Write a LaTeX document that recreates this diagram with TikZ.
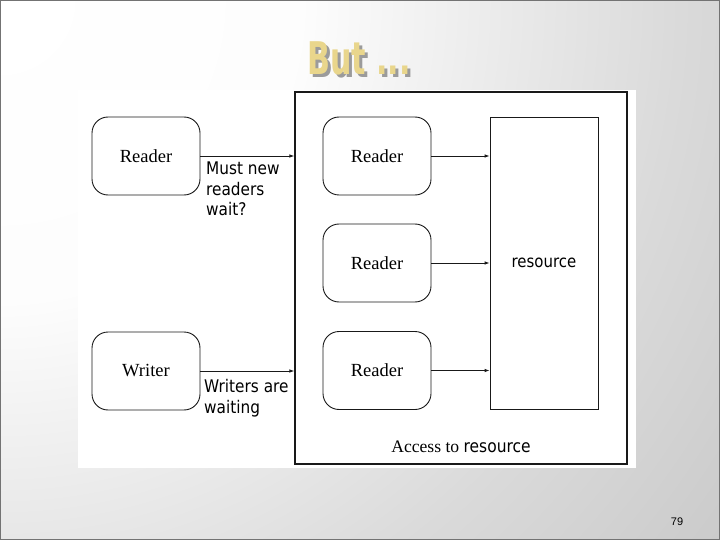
\documentclass[tikz,border=0pt]{standalone}
\usepackage{fontspec}
\setmainfont{Liberation Serif}
\setsansfont{DejaVu Sans}[FakeStretch=0.88]
\newfontfamily\titlefont{DejaVu Sans Bold}[FakeStretch=0.67]
\newfontfamily\numfont{Liberation Sans}
\usetikzlibrary{arrows.meta}
\definecolor{titlegold}{RGB}{233,214,140}
\definecolor{titleshadow}{RGB}{155,155,155}
\definecolor{inkc}{RGB}{25,25,25}
\definecolor{bga}{RGB}{253,253,253}
\definecolor{bgb}{RGB}{218,218,218}
\definecolor{bgc}{RGB}{196,196,196}
\definecolor{bgd}{RGB}{180,180,180}
\definecolor{bge}{RGB}{174,174,174}
\pgfdeclareradialshading{slidebg}{\pgfpoint{0bp}{0bp}}{color(0bp)=(white); color(7.5bp)=(bga); color(17bp)=(bgb); color(25bp)=(bgc); color(36bp)=(bgd); color(50bp)=(bge)}
\tikzset{
  actor/.style={draw=inkc, line width=0.9pt, rounded corners=16pt, minimum width=108pt, minimum height=78pt, inner sep=0pt, font=\fontsize{18.5}{20}\selectfont},
  resbox/.style={draw=inkc, line width=0.8pt, minimum width=108pt, minimum height=292pt, inner sep=0pt, font=\sffamily\fontsize{17}{20}\selectfont},
  framebox/.style={draw=inkc, line width=1.3pt, minimum width=332pt, minimum height=372pt, inner sep=0pt},
  link/.style={draw=inkc, line width=0.8pt, -{Latex[length=5pt,width=3.5pt]}},
  lbl/.style={align=left, inner sep=0pt, font=\sffamily\fontsize{17.4}{20.5}\selectfont},
}
\begin{document}
\begin{tikzpicture}[x=1pt,y=-1pt]
\useasboundingbox (0,0) rectangle (720,540);
% background
\fill[bge] (0,0) rectangle (720,540);
\begin{scope}
\clip (0,0) rectangle (720,540);
\shade[shading=slidebg] (0,0) circle[radius=1000];
\end{scope}
\draw[black!55, line width=1pt] (0.5,0.5) rectangle (719.5,539.5);
% title with shadow
\node[font=\titlefont\fontsize{45}{47}\selectfont, inner sep=0pt] (title) at (359,60)
  {\makebox[0pt][l]{\raisebox{-3.5pt}{\hspace{3pt}\textcolor{titleshadow}{But ...}}}\textcolor{titlegold}{But ...}};
% page number
\node[font=\numfont\fontsize{11}{13}\selectfont] (pnum) at (677,522) {79};
% white panel
\fill[white] (78,90) rectangle (636,468);
% frame
\node[framebox] (frame) at (461,278) {};
\node[font=\fontsize{17.6}{20}\selectfont, inner sep=0pt] (access) at (461,447) {Access to {\sffamily resource}};
% left actors
\node[actor] (lr) at (146,156) {Reader};
\node[actor] (wr) at (146,371) {Writer};
% inner readers
\node[actor] (r1) at (377,156) {Reader};
\node[actor] (r2) at (377,263) {Reader};
\node[actor] (r3) at (377,370.5) {Reader};
% resource
\node[resbox] (res) at (544,263) {resource};
% arrows
\draw[link] (lr.east) -- (lr.east -| frame.west);
\draw[link] (wr.east) -- (wr.east -| frame.west);
\draw[link] (r1.east) -- (r1.east -| res.west);
\draw[link] (r2.east) -- (r2.east -| res.west);
\draw[link] (r3.east) -- (r3.east -| res.west);
% labels
\node[lbl, anchor=north west] (l1) at (206,162) {Must new\\readers\\wait?};
\node[lbl, anchor=north west] (l2) at (204,379.5) {Writers are\\waiting};
\end{tikzpicture}
\end{document}
